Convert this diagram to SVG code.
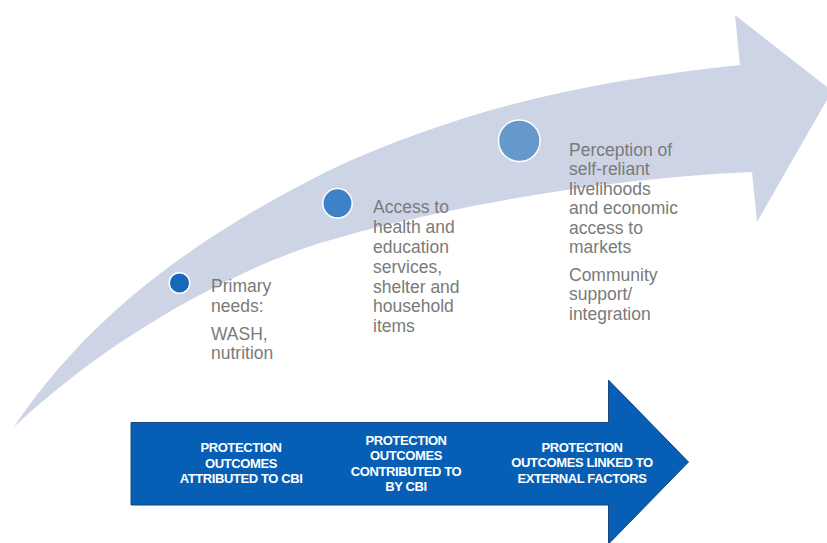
<svg xmlns="http://www.w3.org/2000/svg" width="827" height="543" viewBox="0 0 827 543">
<style>
.lbl{font-family:"Liberation Sans",Arial,sans-serif;font-size:17.5px;fill:#7a7a7a}
.wl{font-family:"Liberation Sans",Arial,sans-serif;font-size:13px;font-weight:bold;fill:#ffffff;text-anchor:middle;letter-spacing:-0.4px}
.dot{stroke:#ffffff;stroke-width:1.5}
</style>
<rect width="827" height="543" fill="#ffffff"/>
<g id="connectors">
<path id="curved-arrow" d="M13,428 C80,330 170,250 330,170 C470,105 600,80 740,65 L735,15 L832,91 L757,222 L752,172 C600,178 430,210 320,243 C220,275 100,345 13,428 Z" fill="#cdd4e6"/>
<path id="bottom-arrow" d="M131,422.5 L608.5,422.5 L608.5,380 L688.5,462 L608.5,544 L608.5,505 L131,505 Z" fill="#065fb5" stroke="#17477d" stroke-width="1"/>
</g>
<g id="node-primary">
<circle class="dot" cx="179.5" cy="283" r="10.3" fill="#1767bb"/>
<text class="lbl" x="211" y="291.5">Primary</text>
<text class="lbl" x="211" y="311.5">needs:</text>
<text class="lbl" x="211" y="339.5">WASH,</text>
<text class="lbl" x="211" y="359.2">nutrition</text>
</g>
<g id="node-access">
<circle class="dot" cx="337.5" cy="203.3" r="14.7" fill="#3d82c6"/>
<text class="lbl" x="373" y="213.3">Access to</text>
<text class="lbl" x="373" y="233.1">health and</text>
<text class="lbl" x="373" y="252.9">education</text>
<text class="lbl" x="373" y="272.7">services,</text>
<text class="lbl" x="373" y="292.5">shelter and</text>
<text class="lbl" x="373" y="312.3">household</text>
<text class="lbl" x="373" y="332.1">items</text>
</g>
<g id="node-livelihoods">
<circle class="dot" cx="519.3" cy="140.7" r="20.8" fill="#6599cc"/>
<text class="lbl" x="569" y="155.7">Perception of</text>
<text class="lbl" x="569" y="175.2">self-reliant</text>
<text class="lbl" x="569" y="194.7">livelihoods</text>
<text class="lbl" x="569" y="214.2">and economic</text>
<text class="lbl" x="569" y="233.7">access to</text>
<text class="lbl" x="569" y="253.2">markets</text>
<text class="lbl" x="569" y="280.7">Community</text>
<text class="lbl" x="569" y="300.2">support/</text>
<text class="lbl" x="569" y="319.7">integration</text>
</g>
<g id="node-attributed">
<text class="wl" x="241" y="452.3">PROTECTION</text>
<text class="wl" x="241" y="467.8">OUTCOMES</text>
<text class="wl" x="241" y="483.3">ATTRIBUTED TO CBI</text>
</g>
<g id="node-contributed">
<text class="wl" x="406" y="445">PROTECTION</text>
<text class="wl" x="406" y="460.3">OUTCOMES</text>
<text class="wl" x="406" y="475.6">CONTRIBUTED TO</text>
<text class="wl" x="406" y="490.9">BY CBI</text>
</g>
<g id="node-external">
<text class="wl" x="582" y="451.7">PROTECTION</text>
<text class="wl" x="582" y="467.2">OUTCOMES LINKED TO</text>
<text class="wl" x="582" y="482.7">EXTERNAL FACTORS</text>
</g>
</svg>
